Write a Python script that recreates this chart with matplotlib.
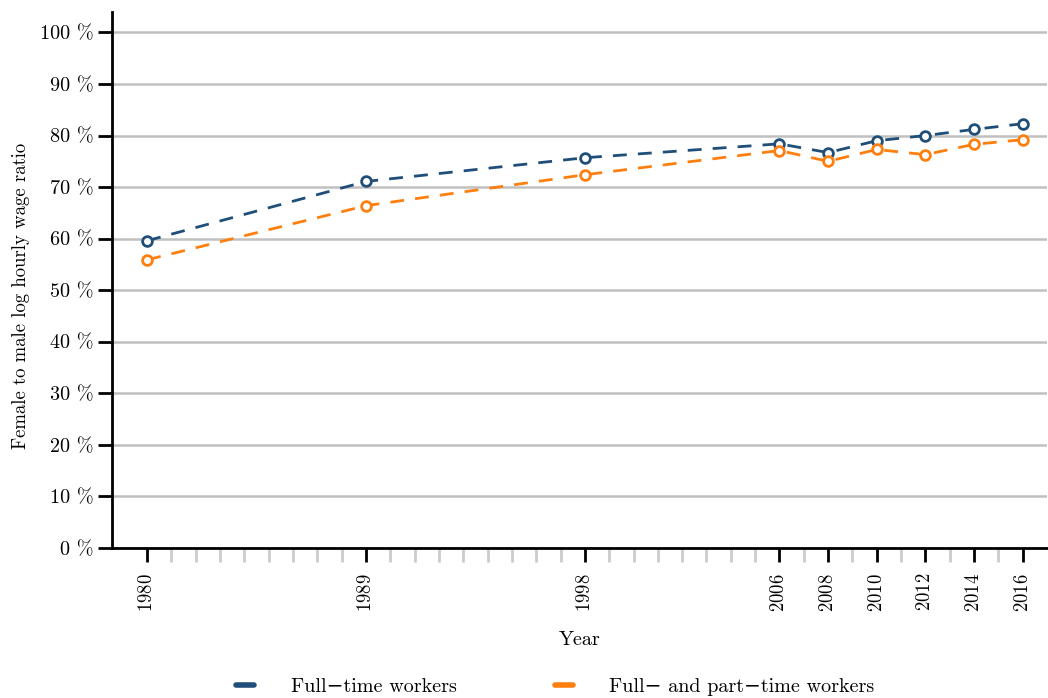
import matplotlib
matplotlib.use("Agg")
import matplotlib.pyplot as plt
from matplotlib.ticker import FixedLocator, MultipleLocator, FuncFormatter

plt.rcParams['font.family'] = ['cmr10', 'DejaVu Serif']
plt.rcParams['axes.formatter.use_mathtext'] = True

years = [1980, 1989, 1998, 2006, 2008, 2010, 2012, 2014, 2016]
full_time = [59.6, 71.1, 75.7, 78.4, 76.7, 79.0, 80.0, 81.2, 82.3]
full_part_time = [55.9, 66.4, 72.4, 77.1, 75.0, 77.3, 76.3, 78.3, 79.2]

blue = '#1f4e79'
orange = '#ff7f0e'

fig = plt.figure(figsize=(10.48, 6.98), dpi=100)
ax = fig.add_axes([0.107, 0.215, 0.892, 0.768])

ax.plot(years, full_time, '--o', color=blue, lw=2, ms=7, mfc='white', mew=2,
        dashes=(5, 4), label='Full\u2212time workers')
ax.plot(years, full_part_time, '--o', color=orange, lw=2, ms=7, mfc='white', mew=2,
        dashes=(5, 4), label='Full\u2212 and part\u2212time workers')

ax.set_xlim(1978.56, 2017.0)
ax.set_ylim(0, 104)

ax.xaxis.set_major_locator(FixedLocator(years))
ax.xaxis.set_minor_locator(FixedLocator(list(range(1981, 2016))))
ax.yaxis.set_major_locator(MultipleLocator(10))
ax.yaxis.set_major_formatter(FuncFormatter(lambda v, p: f'{v:.0f} %'))

ax.grid(axis='y', color='#c0c0c0', lw=1.8)
ax.set_axisbelow(True)

for s in ['top', 'right']:
    ax.spines[s].set_visible(False)
ax.spines['left'].set_linewidth(2)
ax.spines['bottom'].set_linewidth(2)

ax.tick_params(axis='both', which='major', length=10, width=2)
ax.tick_params(axis='y', labelsize=14.5)
ax.tick_params(axis='x', labelsize=13.5, pad=8)
ax.tick_params(axis='x', which='minor', length=10, width=2, color='#cccccc')
plt.setp(ax.get_xticklabels(), rotation=90)

ax.set_xlabel('Year', fontsize=14.5, labelpad=14)
ax.set_ylabel('Female to male log hourly wage ratio', fontsize=13.5)
ax.yaxis.set_label_coords(-0.088, 0.47)

fig.legend(*ax.get_legend_handles_labels(), loc='center', bbox_to_anchor=(0.53, 0.016),
           ncol=2, frameon=False, fontsize=14.5, handlelength=0.9, handletextpad=1.8,
           columnspacing=4.9)
leg = fig.legends[0]
for h in leg.legend_handles:
    h.set_marker('')
    h.set_linestyle('-')
    h.set_linewidth(4)
    h.set_solid_capstyle('round')

fig.savefig('out.png', dpi=100)
